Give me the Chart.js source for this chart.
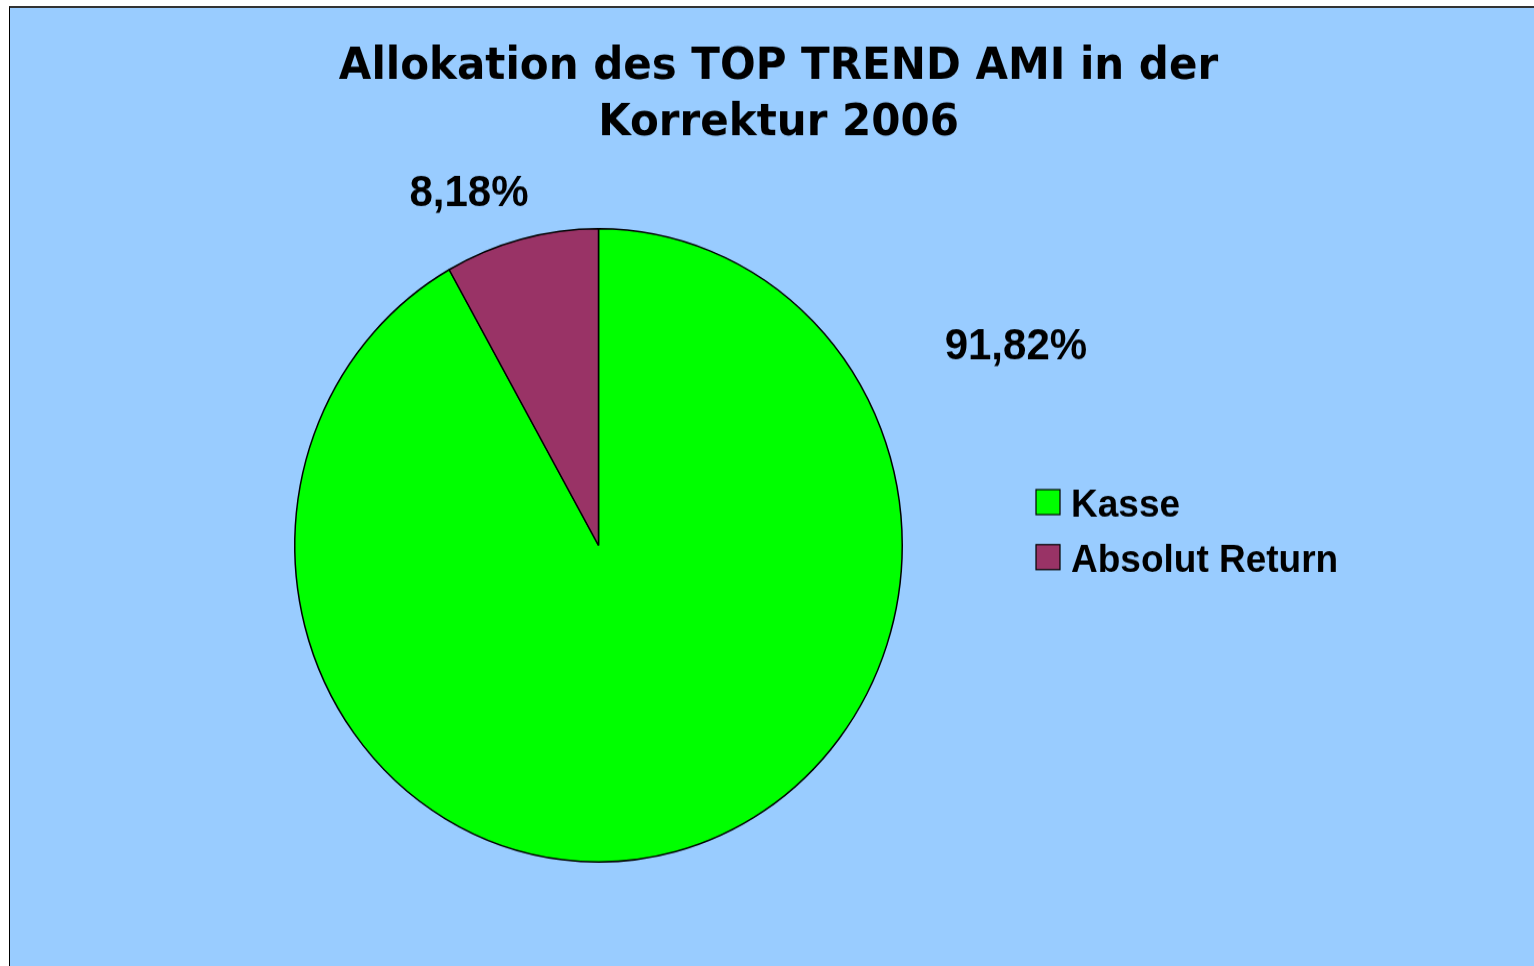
<!DOCTYPE html>
<html>
<head>
<meta charset="utf-8">
<title>Allokation des TOP TREND AMI</title>
<script src="https://cdn.jsdelivr.net/npm/chart.js@4.4.0/dist/chart.umd.min.js"></script>
<style>
html, body { margin: 0; padding: 0; background: #fff; overflow: hidden; }
#frame {
    position: absolute; left: 9px; top: 6px;
    width: 1525px; height: 960px;
    background: #99ccff;
    border-top: 2px solid #333; border-left: 1px solid #000;
    overflow: hidden;
}
/* the original sheet is stretched a little vertically */
#frame canvas { transform: scaleY(1.0424); transform-origin: 0 0; }
</style>
</head>
<body>
<div id="frame"><canvas id="allocChart" width="1524" height="919"></canvas></div>
<script>
var titleLines = ['Allokation des TOP TREND AMI in der', 'Korrektur 2006'];
var categories = ['Kasse', 'Absolut Return'];
var shares = [91.82, 8.18];
var sliceColors = ['#00ff00', '#993366'];

function pctText(v, total) {
    return (v / total * 100).toFixed(2).replace('.', ',') + '%';
}

// title, slice labels and legend, drawn the way the Excel sheet has them
var excelDecor = {
    id: 'excelDecor',
    afterDraw: function (chart, args, opts) {
        var ctx = chart.ctx;
        ctx.save();
        ctx.fillStyle = '#000';

        ctx.textAlign = 'center';
        ctx.textBaseline = 'alphabetic';
        ctx.font = 'bold 42px "DejaVu Sans"';
        titleLines.forEach(function (t, i) {
            ctx.fillText(t, 768.5, 68 + i * 53.7);
        });

        var meta = chart.getDatasetMeta(0);
        var total = shares.reduce(function (a, b) { return a + b; }, 0);
        ctx.font = 'bold 42px "Liberation Sans"';
        ctx.textBaseline = 'middle';
        meta.data.forEach(function (arc, i) {
            var p = opts.labelPos[i];
            var a = p.angle * Math.PI / 180;
            var r = arc.outerRadius * p.dist;
            ctx.fillText(pctText(shares[i], total), arc.x + Math.sin(a) * r, arc.y - Math.cos(a) * r);
        });

        ctx.font = 'bold 37px "Liberation Sans"';
        ctx.textAlign = 'left';
        ctx.textBaseline = 'alphabetic';
        categories.forEach(function (c, i) {
            var y = opts.legendTop + i * opts.legendStep;
            ctx.fillStyle = sliceColors[i];
            ctx.fillRect(opts.legendLeft, y, 24, 24);
            ctx.strokeStyle = '#000';
            ctx.lineWidth = 1.2;
            ctx.strokeRect(opts.legendLeft, y, 24, 24);
            ctx.fillStyle = '#000';
            ctx.fillText(c, opts.legendLeft + 35, y + 25.8);
        });
        ctx.restore();
    }
};

var ctx = document.getElementById('allocChart').getContext('2d');
var allocChart = new Chart(ctx, {
    type: 'pie',
    data: {
        labels: categories,
        datasets: [{
            data: shares,
            backgroundColor: sliceColors,
            borderColor: '#000',
            borderWidth: 1.5
        }]
    },
    options: {
        responsive: false,
        animation: false,
        layout: {
            padding: { left: 284, right: 631, top: 211, bottom: 99 }
        },
        plugins: {
            legend: { display: false },
            tooltip: { enabled: false },
            title: { display: false },
            excelDecor: {
                labelPos: [{ angle: 65.5, dist: 1.51 }, { angle: 339, dist: 1.19 }],
                legendLeft: 1026,
                legendTop: 462,
                legendStep: 52.8
            }
        }
    },
    plugins: [excelDecor]
});
</script>
</body>
</html>
